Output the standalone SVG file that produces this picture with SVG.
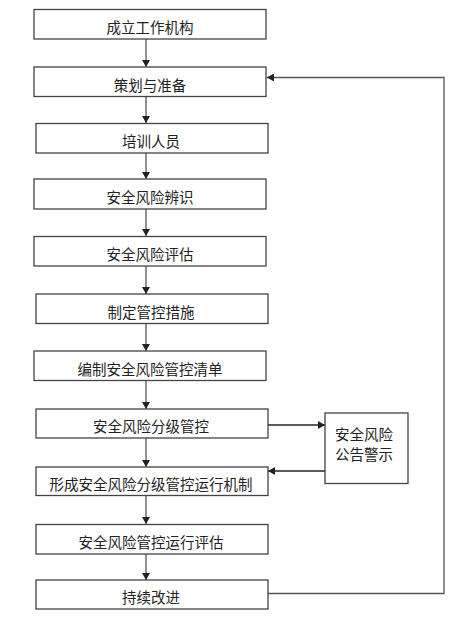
<svg xmlns="http://www.w3.org/2000/svg" width="462" height="622" viewBox="0 0 462 622">
<style>
.box{fill:#fff;stroke:#444;stroke-width:1.3}
.t{font-family:"Noto Sans CJK SC","Liberation Sans",sans-serif;font-size:14.5px;fill:#222;text-anchor:middle;dominant-baseline:central}
.c{fill:none;stroke:#555;stroke-width:1.3}
</style>
<defs>
<marker id="ah" markerWidth="8" markerHeight="8" refX="7" refY="4" orient="auto" markerUnits="userSpaceOnUse">
<path d="M0,0 L7,4 L0,8 Z" fill="#222"/>
</marker>
</defs>
<rect width="462" height="622" fill="#fff"/>
<g id="connectors">
<line class="c" x1="146" y1="39" x2="146" y2="67" marker-end="url(#ah)"/>
<line class="c" x1="146" y1="97" x2="146" y2="123" marker-end="url(#ah)"/>
<line class="c" x1="146" y1="153" x2="146" y2="179" marker-end="url(#ah)"/>
<line class="c" x1="146" y1="209" x2="146" y2="236" marker-end="url(#ah)"/>
<line class="c" x1="146" y1="266" x2="146" y2="294" marker-end="url(#ah)"/>
<line class="c" x1="146" y1="323" x2="146" y2="351" marker-end="url(#ah)"/>
<line class="c" x1="146" y1="381" x2="146" y2="409" marker-end="url(#ah)"/>
<line class="c" x1="146" y1="438" x2="146" y2="467" marker-end="url(#ah)"/>
<line class="c" x1="146" y1="495" x2="146" y2="524" marker-end="url(#ah)"/>
<line class="c" x1="146" y1="554" x2="146" y2="580" marker-end="url(#ah)"/>
<line class="c" x1="268" y1="425" x2="325" y2="425" marker-end="url(#ah)" style="stroke:#222"/>
<line class="c" x1="325" y1="471" x2="268" y2="471" marker-end="url(#ah)" style="stroke:#222"/>
<polyline class="c" points="268,593.5 444,593.5 444,77.5 267,77.5" marker-end="url(#ah)"/>
</g>
<g id="n1"><rect class="box" x="34" y="9.5" width="232" height="29.5"/><text class="t" x="150" y="26.5">成立工作机构</text></g>
<g id="n2"><rect class="box" x="34" y="67" width="232" height="29.5"/><text class="t" x="150" y="84">策划与准备</text></g>
<g id="n3"><rect class="box" x="36" y="123.5" width="232" height="29.5"/><text class="t" x="151" y="140.5">培训人员</text></g>
<g id="n4"><rect class="box" x="34" y="179" width="232" height="30"/><text class="t" x="150" y="196">安全风险辨识</text></g>
<g id="n5"><rect class="box" x="34" y="236.5" width="232" height="29.5"/><text class="t" x="150" y="253.5">安全风险评估</text></g>
<g id="n6"><rect class="box" x="36" y="294" width="232" height="29.5"/><text class="t" x="151" y="311">制定管控措施</text></g>
<g id="n7"><rect class="box" x="34" y="351" width="232" height="29.5"/><text class="t" x="150" y="368">编制安全风险管控清单</text></g>
<g id="n8"><rect class="box" x="36" y="409" width="232" height="29"/><text class="t" x="151" y="425.5">安全风险分级管控</text></g>
<g id="n9"><rect class="box" x="325" y="413" width="83" height="70.5"/><text class="t" x="364" y="433">安全风险</text><text class="t" x="364" y="453">公告警示</text></g>
<g id="n10"><rect class="box" x="36" y="467" width="232" height="28.5"/><text class="t" x="151" y="483.5">形成安全风险分级管控运行机制</text></g>
<g id="n11"><rect class="box" x="36" y="524.5" width="232" height="29.5"/><text class="t" x="151" y="541.5">安全风险管控运行评估</text></g>
<g id="n12"><rect class="box" x="36" y="580" width="232" height="29"/><text class="t" x="151" y="596.5">持续改进</text></g>
</svg>
